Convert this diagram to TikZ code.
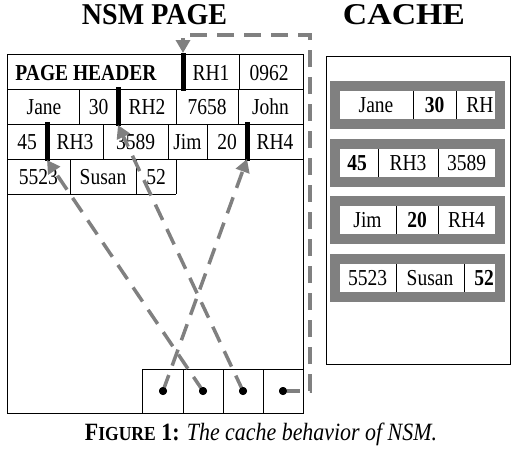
\documentclass[tikz,border=0pt]{standalone}
\usepackage{fontspec}
\setmainfont{Liberation Serif}
\usepackage{graphicx}
\usetikzlibrary{arrows.meta}
\definecolor{dgray}{HTML}{808080}
\newcommand\vst[1]{\scalebox{1}[1.17]{#1}}
\tikzset{
  grid/.style={black, line width=1pt},
  bar/.style={black, line width=5pt},
  cell/.style={inner sep=0pt, text height=15pt, text depth=0pt, font=\fontsize{19.5}{20}\selectfont},
  bcell/.style={cell, font=\fontsize{19.5}{20}\selectfont\bfseries},
  dot/.style={circle, fill=black, inner sep=0pt, minimum size=8pt},
  ptr/.style={dgray, line width=3.5pt, dash pattern=on 17pt off 10pt,
    -{Triangle[length=13pt,width=14pt]}},
  band/.style={fill=dgray},
}
\begin{document}
\begin{tikzpicture}[x=1pt,y=-1pt]
\useasboundingbox (0,0) rectangle (517,463);

% titles
\node[inner sep=0pt] (t1) at (154.5,15) {\resizebox{145pt}{20pt}{\bfseries NSM PAGE}};
\node[inner sep=0pt] (t2) at (404,15) {\resizebox{122pt}{20pt}{\bfseries CACHE}};

% NSM page grid
\draw[grid] (7,54) -- (7,413) -- (303,413) -- (303,54) -- cycle;
\draw[grid] (7,89) -- (303,89) (7,124) -- (303,124) (7,159) -- (303,159) (7,194) -- (176,194);
\draw[grid] (239,54) -- (239,89);
\draw[grid] (79,89) -- (79,124) (176,89) -- (176,124) (238,89) -- (238,124);
\draw[grid] (103,124) -- (103,159) (168,124) -- (168,159) (207,124) -- (207,159);
\draw[grid] (70,159) -- (70,194) (136,159) -- (136,194) (176,159) -- (176,194);
% slot array
\draw[grid] (142,413) -- (142,369) -- (303,369);
\draw[grid] (183,369) -- (183,413) (223,369) -- (223,413) (263,369) -- (263,413);

% record header bars
\coordinate (b1t) at (183,53);  \coordinate (b1b) at (183,91);
\coordinate (b2t) at (118,87);  \coordinate (b2b) at (118,126);
\coordinate (b3t) at (47,122);  \coordinate (b3b) at (47,161);
\coordinate (b4t) at (247,122); \coordinate (b4b) at (247,161);
\draw[bar] (b1t) -- (b1b);
\draw[bar] (b2t) -- (b2b);
\draw[bar] (b3t) -- (b3b);
\draw[bar] (b4t) -- (b4b);

% page texts
\node[bcell] (ph) at (86,73) {\vst{PAGE HEADER}};
\node[cell] (c11) at (211,73) {\vst{RH1}};
\node[cell] (c12) at (269,73) {\vst{0962}};
\node[cell] (c21) at (44,107) {\vst{Jane}};
\node[cell] (c22) at (98.5,107) {\vst{30}};
\node[cell] (c23) at (147,107) {\vst{RH2}};
\node[cell] (c24) at (207,107) {\vst{7658}};
\node[cell] (c25) at (270.5,107) {\vst{John}};
\node[cell] (c31) at (27,142) {\vst{45}};
\node[cell] (c32) at (75,142) {\vst{RH3}};
\node[cell] (c33) at (135.5,142) {\vst{3589}};
\node[cell] (c34) at (187.5,142) {\vst{Jim}};
\node[cell] (c35) at (227,142) {\vst{20}};
\node[cell] (c36) at (275,142) {\vst{RH4}};
\node[cell] (c41) at (38.5,177) {\vst{5523}};
\node[cell] (c42) at (103,177) {\vst{Susan}};
\node[cell] (c43) at (156,177) {\vst{52}};

% slot pointers
\coordinate (d4r) at (310,391);
\coordinate (tr) at (310,35);
\coordinate (tl) at (183,35);
\node[dot] (d1) at (163,391) {};
\node[dot] (d2) at (203,391) {};
\node[dot] (d3) at (243,391) {};
\node[dot] (d4) at (283,391) {};
\begin{scope}[on background layer/.style={}]
\draw[ptr] (d1.center) -- ([yshift=2pt]b4b);
\draw[ptr] (d2.center) -- ([yshift=1pt]b3b);
\draw[ptr] (d3.center) -- ([yshift=1pt]b2b);
\draw[ptr] (d4.center) -- (d4r) -- (tr) -- (tl) -- (b1t);
\end{scope}
\node[dot] at (d1) {};
\node[dot] at (d2) {};
\node[dot] at (d3) {};
\node[dot] at (d4) {};

% cache
\draw[grid] (326,56) rectangle (510,364);
\foreach \y/\n in {81/1,139/2,196/3,254/4}{
  \fill[band] (329.5,\y) rectangle (504.5,\y+48);
  \fill[white] (339.5,\y+10) rectangle (494.5,\y+38);
}
\draw[grid] (413,91) -- (413,119) (456,91) -- (456,119);
\draw[grid] (378,149) -- (378,177) (438,149) -- (438,177);
\draw[grid] (396,206) -- (396,234) (438,206) -- (438,234);
\draw[grid] (396,264) -- (396,292) (464,264) -- (464,292);

\node[cell] (k11) at (376,105) {\vst{Jane}};
\node[bcell] (k12) at (434.5,105) {\vst{30}};
\node[cell] (k13) at (480,105) {\vst{RH}};
\node[bcell] (k21) at (357,163) {\vst{45}};
\node[cell] (k22) at (408,163) {\vst{RH3}};
\node[cell] (k23) at (466.5,163) {\vst{3589}};
\node[cell] (k31) at (367.5,220) {\vst{Jim}};
\node[bcell] (k32) at (417,220) {\vst{20}};
\node[cell] (k33) at (466.5,220) {\vst{RH4}};
\node[cell] (k41) at (367.5,278) {\vst{5523}};
\node[cell] (k42) at (430,278) {\vst{Susan}};
\node[bcell] (k43) at (484,278) {\vst{52}};

% caption
\node[inner sep=0pt, anchor=base] (cap) at (261,440)
  {\resizebox{352pt}{17.5pt}{\textbf{F{\fontsize{8}{8}\selectfont IGURE} 1:} \textit{The cache behavior of NSM.}}};
\end{tikzpicture}
\end{document}
